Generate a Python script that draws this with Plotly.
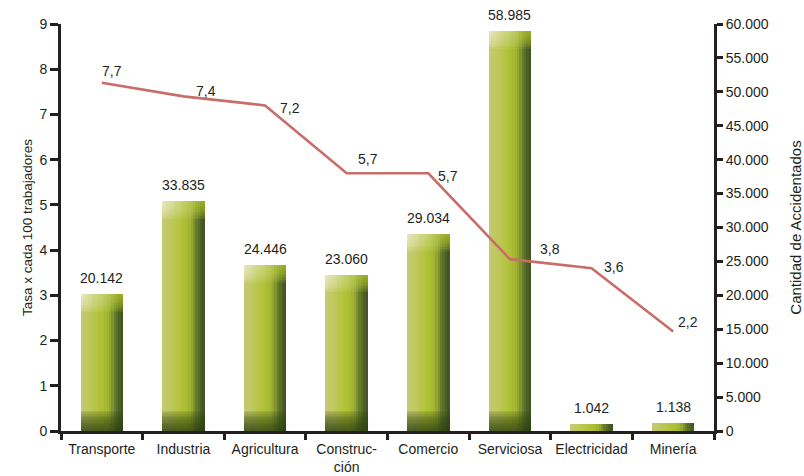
import plotly.graph_objects as go

# Datos por sector
sectores = ["Transporte", "Industria", "Agricultura", "Construc-<br>ción",
            "Comercio", "Serviciosa", "Electricidad", "Minería"]
accidentados = [20142, 33835, 24446, 23060, 29034, 58985, 1042, 1138]
tasa = [7.7, 7.4, 7.2, 5.7, 5.7, 3.8, 3.6, 2.2]

# Desplazamientos (px) de las etiquetas de la tasa respecto a cada punto
tasa_shift = [(10, 12), (23, 5), (25, -3), (21, 14), (20, -3), (40, 10), (22, 1), (15, 10)]

INK = "#231f20"
FONT = "Liberation Sans, Arial, sans-serif"
LINE_RED = "#c96d69"

fig = go.Figure()

# Columnas con sombreado cilíndrico: franjas verticales superpuestas
stops = [
    (0.00, (197, 202, 114)),
    (0.15, (193, 201, 102)),
    (0.35, (183, 197, 68)),
    (0.50, (174, 192, 52)),
    (0.62, (165, 183, 50)),
    (0.72, (140, 160, 48)),
    (0.80, (104, 126, 43)),
    (0.90, (78, 98, 38)),
    (1.00, (62, 80, 33)),
]


def mix(c0, c1, f):
    return tuple(round(a + (b - a) * f) for a, b in zip(c0, c1))


def ramp(t):
    for (t0, c0), (t1, c1) in zip(stops[:-1], stops[1:]):
        if t0 <= t <= t1:
            return mix(c0, c1, (t - t0) / (t1 - t0))
    return stops[-1][1]


BAR_W = 0.52
N = 18
K = 12
sw = BAR_W / N
big = [v > 5000 for v in accidentados]
CAP = 2600     # altura del brillo superior (unidades del eje)
FOOT = 3000    # altura de la sombra inferior

for i in range(N):
    t = (i + 0.5) / N
    r, g, b = ramp(t)
    off = -BAR_W / 2 + i * sw
    common = dict(x=sectores, width=sw, offset=off, yaxis="y",
                  hoverinfo="skip", showlegend=False, marker_line_width=0)
    fig.add_trace(go.Bar(y=accidentados, marker_color=f"rgb({r},{g},{b})", **common))
    # brillo superior: pálido a la izquierda, verde amarillo a la derecha
    cr, cg, cb = mix((240, 240, 208), (170, 190, 46), min(1.0, t * 1.1))
    for k in range(1, K + 1):
        h = [CAP * k / K if bg else 0 for bg in big]
        fig.add_trace(go.Bar(y=h, base=[v - hh for v, hh in zip(accidentados, h)],
                             marker_color=f"rgba({cr},{cg},{cb},0.14)", **common))
    # sombra inferior
    for k in range(1, K + 1):
        h = [FOOT * k / K if bg else 0 for bg in big]
        fig.add_trace(go.Bar(y=h, base=0, marker_color="rgba(48,68,18,0.11)", **common))

# Línea de la tasa
fig.add_trace(go.Scatter(x=sectores, y=tasa, yaxis="y2", mode="lines",
                         line=dict(color=LINE_RED, width=2.6),
                         hoverinfo="skip", showlegend=False))

annotations = []
for s, v in zip(sectores, accidentados):
    annotations.append(dict(x=s, y=v, xref="x", yref="y", yanchor="bottom",
                            yshift=6, showarrow=False,
                            text=f"{v:,}".replace(",", "."),
                            font=dict(family=FONT, size=14, color=INK)))
for s, v, (dx, dy) in zip(sectores, tasa, tasa_shift):
    annotations.append(dict(x=s, y=v, xref="x", yref="y2", xshift=dx, yshift=dy,
                            showarrow=False, text=f"{v:.1f}".replace(".", ","),
                            font=dict(family=FONT, size=14, color=INK)))

axis_common = dict(showline=True, linewidth=3, linecolor=INK, ticks="outside",
                   tickwidth=2.5, tickcolor=INK, showgrid=False, zeroline=False,
                   automargin=False,
                   tickfont=dict(family=FONT, size=14, color=INK))

fig.update_layout(
    width=804, height=476,
    margin=dict(l=61, r=90, t=24, b=45),
    paper_bgcolor="white", plot_bgcolor="white",
    barmode="overlay", bargap=0,
    separators=",.",
    font=dict(family=FONT, size=14, color=INK),
    xaxis=dict(type="category", range=[-0.5, 7.5], tickson="boundaries",
               tickangle=0, ticklen=6, ticklabelstandoff=3, **axis_common),
    yaxis=dict(side="right", range=[0, 60000], dtick=5000, tickformat=",d",
               ticklen=6,
               title=dict(text="Cantidad de Accidentados", standoff=26,
                          font=dict(family=FONT, size=15, color=INK)),
               **axis_common),
    yaxis2=dict(side="left", overlaying="y", range=[0, 9], dtick=1, ticklen=8,
                title=dict(text="Tasa x cada 100 trabajadores", standoff=4,
                           font=dict(family=FONT, size=13.5, color=INK)),
                **axis_common),
    annotations=annotations,
)

fig.write_html("out.html")
